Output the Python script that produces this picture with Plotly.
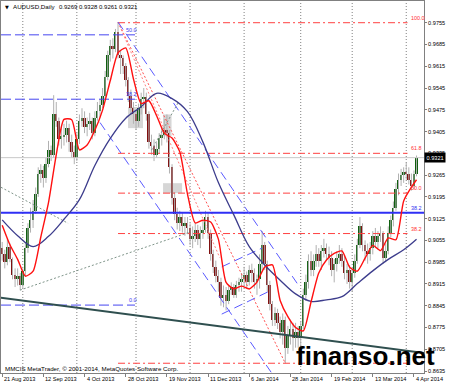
import plotly.graph_objects as go
import pandas as pd

# ---------------- data ----------------
skip_days = ["2013-12-25", "2014-01-01"]
dates = [d for d in pd.bdate_range("2013-08-21", "2014-04-07") if d.strftime("%Y-%m-%d") not in skip_days]
date_str = [d.strftime("%Y-%m-%d") for d in dates]

opens = [
    .9030, .9010, .8985, .9035, .8995, .8945, .8930, .8940,
    .8910, .8955, .9030, .9095, .9120, .9150, .9205, .9270, .9280, .9255,
    .9300, .9345, .9330, .9460, .9440, .9380, .9390, .9395, .9415, .9370, .9340,
    .9320, .9380, .9440, .9450, .9420, .9430, .9440, .9400, .9450, .9470,
    .9490, .9520, .9580, .9650, .9680, .9670, .9725, .9650, .9640, .9615,
    .9570, .9520, .9480, .9460, .9440, .9480, .9510, .9515, .9460, .9370,
    .9360, .9330, .9350, .9385, .9395, .9410, .9400, .9290, .9190, .9140,
    .9110, .9130, .9100, .9110, .9095, .9060, .9070, .9090, .9060, .9080,
    .9090, .9130, .9080, .9010, .8970, .8940, .8920, .8870, .8880, .8860,
    .8895, .8905, .8880, .8910, .8920, .8930, .8945, .8920, .8960, .8950,
    .8920, .8930, .8980, .9040, .8980, .8910, .8850, .8800, .8820, .8790,
    .8760, .8800, .8710, .8750, .8770, .8740, .8760, .8740, .8780, .8880,
    .8920, .8990, .8960, .8990, .9010, .8990, .9020, .9030, .9010, .9000,
    .8960, .8980, .9000, .9010, .8990, .8950, .8960, .8920, .8950, .8990,
    .9040, .9100, .9040, .9020, .9010, .9030, .9070, .9050, .9070, .9080,
    .9000, .9020, .9080, .9120, .9160, .9220, .9250, .9265, .9275, .9270,
    .9250, .9230, .9269]
highs = [
    .9050, .9025, .9060, .9045, .9000, .8965, .8965, .8950,
    .8965, .9050, .9110, .9160, .9185, .9225, .9290, .9300, .9295, .9320,
    .9375, .9360, .9522, .9500, .9450, .9420, .9430, .9440, .9430, .9395, .9360,
    .9400, .9460, .9480, .9470, .9450, .9465, .9450, .9470, .9500, .9510,
    .9545, .9600, .9665, .9700, .9705, .9735, .9755, .9665, .9650, .9625,
    .9580, .9540, .9500, .9475, .9495, .9530, .9545, .9530, .9470, .9395,
    .9380, .9370, .9400, .9420, .9445, .9460, .9410, .9300, .9210, .9160,
    .9150, .9145, .9130, .9130, .9110, .9100, .9110, .9105, .9100, .9120,
    .9150, .9145, .9090, .9025, .8990, .8960, .8935, .8910, .8905, .8910,
    .8920, .8915, .8925, .8935, .8950, .8970, .8955, .8975, .8980, .8965,
    .8945, .9010, .9085, .9050, .8990, .8925, .8860, .8840, .8835, .8810,
    .8820, .8810, .8780, .8800, .8790, .8790, .8780, .8795, .8900, .8945,
    .9010, .9020, .9010, .9040, .9030, .9040, .9060, .9045, .9035, .9020,
    .8995, .9020, .9040, .9030, .9005, .8980, .8975, .8965, .9010, .9060,
    .9130, .9110, .9055, .9045, .9050, .9085, .9095, .9085, .9100, .9085,
    .9045, .9100, .9135, .9180, .9240, .9270, .9285, .9290, .9305, .9290,
    .9270, .9280, .9328]
lows = [
    .8990, .8965, .8975, .8985, .8930, .8905, .8910, .8895,
    .8900, .8940, .9015, .9080, .9095, .9140, .9195, .9240, .9225, .9240,
    .9290, .9310, .9320, .9420, .9360, .9350, .9360, .9370, .9340, .9320, .9300,
    .9310, .9365, .9420, .9400, .9390, .9410, .9380, .9390, .9440, .9450,
    .9480, .9510, .9570, .9630, .9640, .9660, .9640, .9590, .9590, .9550,
    .9500, .9460, .9430, .9410, .9420, .9460, .9480, .9440, .9350, .9330,
    .9310, .9320, .9335, .9360, .9380, .9370, .9270, .9170, .9120, .9090,
    .9085, .9080, .9070, .9075, .9040, .9030, .9050, .9040, .9030, .9060,
    .9080, .9060, .8990, .8950, .8920, .8890, .8845, .8840, .8830, .8850,
    .8880, .8870, .8870, .8890, .8890, .8910, .8900, .8910, .8920, .8900,
    .8880, .8900, .8960, .8960, .8890, .8830, .8780, .8780, .8770, .8740,
    .8720, .8660, .8690, .8720, .8700, .8710, .8710, .8710, .8770, .8860,
    .8900, .8940, .8940, .8970, .8970, .8960, .9000, .8990, .8975, .8940,
    .8920, .8955, .8980, .8970, .8930, .8915, .8900, .8890, .8935, .8980,
    .9030, .9020, .8990, .8980, .8990, .9010, .9030, .9030, .9050, .8980,
    .8985, .9010, .9065, .9100, .9150, .9200, .9230, .9240, .9250, .9235,
    .9215, .9220, .9261]
closes = [
    .9010, .8985, .9035, .8995, .8945, .8930, .8940, .8910,
    .8955, .9030, .9095, .9120, .9150, .9205, .9270, .9280, .9255, .9300,
    .9345, .9330, .9460, .9440, .9380, .9390, .9395, .9415, .9370, .9340, .9320,
    .9380, .9440, .9450, .9420, .9430, .9440, .9400, .9450, .9470, .9490,
    .9520, .9580, .9650, .9680, .9670, .9725, .9650, .9640, .9615, .9570,
    .9520, .9480, .9460, .9440, .9480, .9510, .9515, .9460, .9370, .9360,
    .9330, .9350, .9385, .9395, .9410, .9400, .9290, .9190, .9140, .9110,
    .9130, .9100, .9110, .9095, .9060, .9070, .9090, .9060, .9080, .9090,
    .9130, .9080, .9010, .8970, .8940, .8920, .8870, .8880, .8860, .8895,
    .8905, .8880, .8910, .8920, .8930, .8945, .8920, .8960, .8950, .8920,
    .8930, .8980, .9040, .8980, .8910, .8850, .8800, .8820, .8790, .8760,
    .8800, .8710, .8750, .8770, .8740, .8760, .8740, .8780, .8880, .8920,
    .8990, .8960, .8990, .9010, .8990, .9020, .9030, .9010, .9000, .8960,
    .8980, .9000, .9010, .8990, .8950, .8960, .8920, .8950, .8990, .9040,
    .9100, .9040, .9020, .9010, .9030, .9070, .9050, .9070, .9080, .9000,
    .9020, .9080, .9120, .9160, .9220, .9250, .9265, .9275, .9270, .9250,
    .9230, .9269, .9321]

# fast MA (red), every 3rd bar
red_ma_bars = list(range(0, 160, 3)) + [161]
red_ma = [.9104, .9041, .8994, .8940, .8956, .9066, .9177, .9330, .9444, .9443,
          .9346, .9362, .9409, .9474, .9569, .9658, .9674, .9574, .9495, .9504,
          .9456, .9400, .9384, .9340, .9204, .9111, .9120, .9114, .9059, .8920,
          .8899, .8908, .8899, .8921, .8969, .8976, .8862, .8810, .8775, .8764,
          .8857, .8950, .8992, .9013, .9021, .8969, .8956, .8998, .9039, .9022,
          .9063, .9057, .9182, .9226, .9250]
# slow MA (navy), read every 6th bar
slow_ma_bars = list(range(0, 157, 6)) + [161]
slow_ma = [.9121, .9070, .9035, .9068, .9123, .9186, .9296, .9383, .9448, .9485,
           .9528, .9511, .9469, .9371, .9241, .9137, .9035, .8976, .8927, .8883,
           .8859, .8864, .8874, .8916, .8957, .8994, .9025, .9059]

label_dates = ["2013-08-21", "2013-09-12", "2013-10-04", "2013-10-28", "2013-11-19", "2013-12-11",
               "2014-01-06", "2014-01-28", "2014-02-19", "2014-03-13", "2014-04-04"]
y_ticks = [0.9755, 0.9685, 0.9615, 0.9545, 0.9475, 0.9405, 0.9335, 0.9265, 0.9195,
           0.9125, 0.9055, 0.8985, 0.8915, 0.8845, 0.8775, 0.8705, 0.8635]

# Fibonacci (red) from 23 Oct 2013 high to 24 Jan 2014 low
fib_red_levels = [0.9755, 0.9335, 0.9207, 0.9077, 0.8660]
fib_red_labels = ["100.0", "61.8", "50.0", "38.2", ""]
fib_high = ("2013-10-23", 0.9757)
fib_low = ("2014-01-24", 0.8660)
# Fibonacci (blue, left part)
fib_blue_levels = [0.9716, 0.9509, 0.8847]
fib_blue_labels = ["50.0", "38.2", "0.0"]
blue_level = 0.9144
bid = closes[-1]

# drawn trend objects: (bar, price) anchors
channel_upper = [(45.0, 0.9757), (114.6, 0.8917)]
channel_lower = [(38.0, 0.9434), (104.5, 0.8631)]
flag_upper = [(85.3, 0.8970), (100.9, 0.9030)]
flag_lower = [(85.3, 0.8818), (103.4, 0.8890)]
steep_dotted = [(45.0, 0.9757), (84.5, 0.9000)]
slate_line = [(-1.0, 0.8871), (164.5, 0.8692)]
gray_dot1 = [(-0.5, 0.9226), (25.6, 0.9110)]
gray_dot2 = [(6.9, 0.8895), (73.0, 0.9082)]
gray_dot3 = [(58.0, 0.9345), (68.5, 0.9500)]
zones = [(48.9, 54.7, 0.9416, 0.9484), (62.5, 65.8, 0.9390, 0.9460), (62.5, 69.9, 0.9207, 0.9239)]

# ---------------- figure ----------------
N = len(closes)
idx = list(range(N))
bar_of = {s: i for i, s in enumerate(date_str)}
X0, X1 = -0.47, 163.9
Y0, Y1 = 0.86286, 0.98248
FONT = "Liberation Sans, Arial, sans-serif"

fig = go.Figure()


def seg(pts, color, width, dash="solid"):
    fig.add_trace(go.Scatter(x=[p[0] for p in pts], y=[p[1] for p in pts], mode="lines",
                             line=dict(color=color, width=width, dash=dash), hoverinfo="skip"))


# wicks
wx, wy = [], []
for i in idx:
    wx += [i, i, None]
    wy += [lows[i], highs[i], None]
fig.add_trace(go.Scatter(x=wx, y=wy, mode="lines", line=dict(color="#b0b0b0", width=1), hoverinfo="skip"))
# bodies
base = [min(o, c) for o, c in zip(opens, closes)]
height = [max(abs(c - o), 0.00025) for o, c in zip(opens, closes)]
cols = ["#0f5f0f" if c >= o else "#801010" for o, c in zip(opens, closes)]
fig.add_trace(go.Bar(x=idx, y=height, base=base, width=0.75, marker=dict(color=cols, line=dict(width=0)),
                     hoverinfo="skip"))

# horizontal lines
seg([(X0, bid), (X1, bid)], "#c8c8c8", 1)
i_hi = bar_of[fib_high[0]]
i_lo = bar_of[fib_low[0]]
fib_end = N - 4.5
for lv in fib_red_levels:
    seg([(i_hi, lv), (fib_end, lv)], "#ff4040", 1, "7px,3px,2px,3px")
seg([(i_hi, fib_high[1]), (i_lo, fib_low[1])], "#ff5050", 1, "2px,2px")
seg(steep_dotted, "#ff8080", 1, "2px,2px")
for lv in fib_blue_levels:
    seg([(X0, lv), (51.6, lv)], "#4646f0", 1, "10px,4px")
seg([(X0, blue_level), (X1, blue_level)], "#2f2ff5", 2)
for ch in (channel_upper, channel_lower, flag_upper, flag_lower):
    seg(ch, "#5a5aff", 1, "9px,5px")
seg(slate_line, "#2f4f4f", 2)
for g in (gray_dot1, gray_dot2, gray_dot3):
    seg(g, "#7f958a", 1, "2px,2px")

# moving averages
fig.add_trace(go.Scatter(x=slow_ma_bars, y=slow_ma, mode="lines",
                         line=dict(color="#3c3c8c", width=1.3, shape="spline", smoothing=1.0), hoverinfo="skip"))
fig.add_trace(go.Scatter(x=red_ma_bars, y=red_ma, mode="lines",
                         line=dict(color="#ff1010", width=1.4, shape="spline", smoothing=0.6), hoverinfo="skip"))

# shapes: zones and month separators
shapes = []
for a, b, p0, p1 in zones:
    shapes.append(dict(type="rect", xref="x", yref="y", x0=a, x1=b, y0=p0, y1=p1,
                       fillcolor="#d6d6d6", line=dict(width=0), layer="below"))
month_starts = [i for i in range(1, N) if dates[i].month != dates[i - 1].month]
for m in month_starts:
    shapes.append(dict(type="line", xref="x", yref="paper", x0=m, x1=m, y0=0, y1=1,
                       line=dict(color="#808080", width=1, dash="1px,2px"), layer="below"))

label_idx = [bar_of[d] for d in label_dates]
ann = []
for d, i in zip(label_dates, label_idx):
    t = pd.Timestamp(d)
    ann.append(dict(x=i, y=0, xref="x", yref="paper", xanchor="left", yanchor="top", yshift=-1, xshift=0,
                    text=f"{t.day} {t.strftime('%b %Y')}", showarrow=False,
                    font=dict(family=FONT, size=5.6, color="black")))
for lv, lab in zip(fib_red_levels, fib_red_labels):
    if lab:
        ann.append(dict(x=fib_end + 0.5, y=lv, xref="x", yref="y", xanchor="left", yanchor="bottom",
                        text=lab, showarrow=False, font=dict(family=FONT, size=5.4, color="#ff3030")))
for lv, lab in zip(fib_blue_levels, fib_blue_labels):
    ann.append(dict(x=47.5 if lab != "0.0" else 48.3, y=lv, xref="x", yref="y", xanchor="left",
                    yanchor="bottom", text=lab, showarrow=False,
                    font=dict(family=FONT, size=5.4, color="#3a3af0")))
ann.append(dict(x=fib_end + 0.5, y=blue_level, xref="x", yref="y", xanchor="left", yanchor="bottom",
                text="38.2", showarrow=False, font=dict(family=FONT, size=5.4, color="#3030f0")))


def px(xp):
    return (xp - 1) / 423.0


def py(yp):
    return (373 - yp) / 372.0


ann.append(dict(x=px(2.5), y=py(7), xref="paper", yref="paper", xanchor="left", yanchor="middle",
                text="▼", showarrow=False, font=dict(family="DejaVu Sans", size=5, color="black")))
ann.append(dict(x=px(10.5), y=py(7), xref="paper", yref="paper", xanchor="left", yanchor="middle",
                text="AUDUSD,Daily", showarrow=False, font=dict(family=FONT, size=6.2, color="black")))
ann.append(dict(x=px(57), y=py(7), xref="paper", yref="paper", xanchor="left", yanchor="middle",
                text=f"{opens[-1]:.4f} {highs[-1]:.4f} {lows[-1]:.4f} {closes[-1]:.4f}", showarrow=False,
                font=dict(family=FONT, size=6.0, color="black")))
ann.append(dict(x=px(3), y=py(368), xref="paper", yref="paper", xanchor="left", yanchor="middle",
                text="MMCIS MetaTrader, © 2001-2014, MetaQuotes Software Corp.", showarrow=False,
                font=dict(family=FONT, size=6.2, color="black")))
ann.append(dict(x=1, y=bid, xref="paper", yref="y", xanchor="left", yanchor="middle", xshift=0,
                text=f"{bid:.4f}", showarrow=False, bgcolor="black", borderpad=1.5,
                font=dict(family=FONT, size=5.6, color="white")))
ann.append(dict(x=px(365), y=py(356), xref="paper", yref="paper", xanchor="center", yanchor="middle",
                text="<b>finanso.net</b>", showarrow=False, font=dict(family=FONT, size=26, color="black")))

fig.update_layout(
    width=450, height=385,
    margin=dict(l=1, r=26, t=1, b=12, autoexpand=False),
    plot_bgcolor="white", paper_bgcolor="white",
    showlegend=False, bargap=0, hovermode=False,
    shapes=shapes, annotations=ann,
    xaxis=dict(range=[X0, X1], showgrid=False, zeroline=False, showline=True, linecolor="#808080",
               linewidth=1, mirror=True, tickmode="array", tickvals=label_idx, showticklabels=False,
               ticks="outside", ticklen=3, tickcolor="#808080"),
    yaxis=dict(range=[Y0, Y1], side="right", showgrid=False, zeroline=False, showline=True,
               linecolor="#808080", linewidth=1, mirror=True, tickmode="array", tickvals=y_ticks,
               ticktext=[f"{v:.4f}" for v in y_ticks], ticks="outside", ticklen=2, tickcolor="#808080",
               tickfont=dict(family=FONT, size=5.6, color="black")),
)

fig.write_html("out.html", config={"displayModeBar": False})
